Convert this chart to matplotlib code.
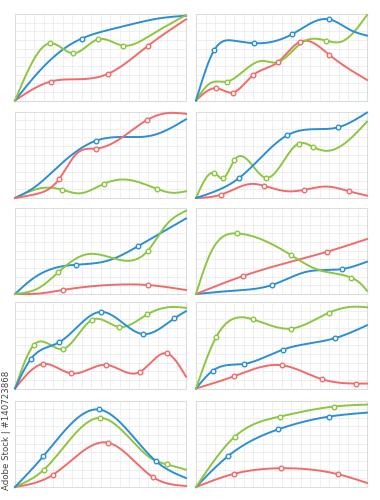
import numpy as np
import matplotlib
matplotlib.use("Agg")
from matplotlib import pyplot as plt

# colours of the three series
BLUE = "#2b8fd6"
GREEN = "#8dc63f"
RED = "#f26b6b"

# each panel: x values, y values and indices of the points that get a marker
# panel 1 (row 1, left)
p1_blue_x = [0, 2.0, 5.07, 7.0, 10.0, 12.4, 15.2, 18]
p1_blue_y = [0, 2.7, 5.92, 7.15, 8.2, 8.85, 9.5, 9.8]
p1_blue_m = [3]
p1_green_x = [0, 3.67, 6.12, 8.74, 11.36, 14.2, 18]
p1_green_y = [0, 6.62, 5.46, 7.08, 6.35, 7.5, 9.88]
p1_green_m = [1, 2, 3, 4]
p1_red_x = [0, 3.74, 6.8, 9.79, 13.98, 18]
p1_red_y = [0, 2.19, 2.46, 3.08, 6.31, 9.38]
p1_red_m = [1, 3, 4]

# panel 2 (row 1, right)
p2_blue_x = [0, 1.93, 3.96, 6.14, 10.1, 14.04, 16.25, 18]
p2_blue_y = [0, 5.85, 6.92, 6.62, 7.65, 9.38, 8.15, 7.5]
p2_blue_m = [1, 3, 4, 5]
p2_green_x = [0, 1.5, 3.26, 5.0, 6.95, 8.5, 11.3, 13.72, 15.3, 18]
p2_green_y = [0, 2.0, 2.19, 3.4, 4.58, 4.4, 6.8, 6.92, 6.8, 9.88]
p2_green_m = [2, 7]
p2_red_x = [0, 2.1, 3.86, 6.0, 8.6, 10.98, 14.04, 18]
p2_red_y = [0, 1.42, 0.92, 2.92, 4.42, 6.81, 5.27, 2.38]
p2_red_m = [1, 2, 3, 4, 5, 6]

# panel 3 (row 2, left)
p3_blue_x = [0, 2.0, 4.7, 8.49, 11.0, 14.5, 18]
p3_blue_y = [0, 1.2, 3.8, 6.61, 7.05, 7.25, 9.1]
p3_blue_m = [3]
p3_red_x = [0, 2.0, 4.61, 6.46, 8.56, 11.4, 13.91, 15.9, 18]
p3_red_y = [0, 0.4, 2.14, 5.1, 5.72, 7.1, 9.03, 9.8, 9.73]
p3_red_m = [2, 4, 6]
p3_green_x = [0, 2.97, 4.9, 6.8, 9.33, 11.53, 14.96, 16.6, 18]
p3_green_y = [0, 1.17, 0.97, 0.54, 1.63, 2.14, 1.05, 0.6, 0.78]
p3_green_m = [2, 4, 6]

# panel 4 (row 2, right)
p4_blue_x = [0, 2.21, 4.56, 9.58, 12.03, 14.95, 18]
p4_blue_y = [0, 0.86, 2.33, 7.24, 7.94, 8.17, 9.88]
p4_blue_m = [2, 3, 5]
p4_green_x = [0, 1.93, 2.84, 4.03, 7.4, 10.8, 12.3, 13.8, 18]
p4_green_y = [0, 2.88, 2.26, 4.36, 2.33, 6.3, 5.91, 5.45, 8.83]
p4_green_m = [1, 2, 3, 4, 5, 6]
p4_red_x = [0, 2.63, 5.9, 7.19, 9.58, 11.33, 13.8, 16.1, 18]
p4_red_y = [0, 0.39, 1.63, 1.4, 0.78, 0.93, 1.32, 0.78, 0.27]
p4_red_m = [1, 3, 5, 7]

# panel 5 (row 3, left)
p5_blue_x = [0, 1.92, 4.72, 6.4, 9.96, 12.97, 18]
p5_blue_y = [0, 1.81, 3.15, 3.38, 3.92, 5.54, 8.73]
p5_blue_m = [3, 5]
p5_green_x = [0, 2.62, 4.54, 7.51, 10.66, 13.98, 15.9, 18]
p5_green_y = [0, 0.77, 2.5, 4.58, 4.04, 5.0, 7.96, 9.62]
p5_green_m = [2, 5]
p5_red_x = [0, 2.5, 5.0, 10.66, 13.98, 18]
p5_red_y = [0, 0.05, 0.46, 1.08, 1.04, 0.46]
p5_red_m = [2, 4]

# panel 6 (row 3, right)
p6_green_x = [0, 1.51, 4.32, 10.0, 12.73, 16.35, 17.3, 18]
p6_green_y = [0, 4.69, 7.0, 4.5, 2.85, 1.88, 1.23, 0.38]
p6_green_m = [2, 3, 5]
p6_red_x = [0, 4.95, 7.47, 13.79, 18]
p6_red_y = [0, 2.08, 2.96, 4.88, 6.35]
p6_red_m = [1, 3]
p6_blue_x = [0, 3.96, 8.0, 11.68, 15.37, 18]
p6_blue_y = [0, 0.38, 1.04, 2.58, 2.88, 3.73]
p6_blue_m = [2, 4]

# panel 7 (row 4, left)
p7_blue_x = [0, 1.64, 4.65, 9.02, 13.46, 16.78, 18]
p7_blue_y = [0, 3.37, 5.34, 8.86, 6.29, 8.11, 8.94]
p7_blue_m = [1, 2, 3, 4, 5]
p7_green_x = [0, 1.99, 5.07, 8.14, 10.94, 13.91, 16.6, 18]
p7_green_y = [0, 5.04, 4.58, 7.95, 7.12, 8.56, 9.43, 9.32]
p7_green_m = [1, 2, 3, 4, 5]
p7_red_x = [0, 2.97, 5.94, 9.61, 13.11, 16.0, 18]
p7_red_y = [0, 2.84, 1.74, 2.73, 1.89, 4.05, 1.36]
p7_red_m = [1, 2, 3, 4, 5]

# panel 8 (row 4, right)
p8_green_x = [0, 2.14, 6.0, 10.0, 13.96, 16.5, 18]
p8_green_y = [0, 5.98, 7.99, 6.93, 8.75, 9.45, 9.39]
p8_green_m = [1, 2, 3, 4]
p8_blue_x = [0, 1.79, 5.02, 9.16, 14.67, 18]
p8_blue_y = [0, 2.08, 2.84, 4.5, 5.83, 7.31]
p8_blue_m = [1, 2, 3, 4]
p8_red_x = [0, 3.96, 9.02, 13.3, 16.84, 18]
p8_red_y = [0, 1.4, 2.69, 1.06, 0.57, 0.57]
p8_red_m = [1, 2, 3, 4]

# panel 9 (row 5, left)
p9_blue_x = [0, 2.97, 8.81, 14.86, 18]
p9_blue_y = [0, 3.54, 8.96, 2.96, 1.04]
p9_blue_m = [1, 2, 3]
p9_green_x = [0, 3.04, 8.98, 14.5, 15.97, 18]
p9_green_y = [0, 2.0, 8.0, 3.2, 2.62, 2.0]
p9_green_m = [1, 2, 4]
p9_red_x = [0, 3.95, 9.79, 14.5, 18]
p9_red_y = [0, 1.38, 5.12, 1.15, 0.12]
p9_red_m = [1, 2, 3]

# panel 10 (row 5, right)
p10_green_x = [0, 4.07, 8.81, 14.49, 18]
p10_green_y = [0, 5.81, 8.14, 9.3, 9.53]
p10_green_m = [1, 2, 3]
p10_blue_x = [0, 3.37, 8.67, 14.0, 18]
p10_blue_y = [0, 3.57, 6.67, 8.14, 8.6]
p10_blue_m = [1, 2, 3]
p10_red_x = [0, 3.96, 8.95, 14.98, 18]
p10_red_y = [0, 1.51, 2.17, 1.47, 0.47]
p10_red_m = [1, 2, 3]

panels = [
    [(p1_red_x, p1_red_y, p1_red_m, RED), (p1_blue_x, p1_blue_y, p1_blue_m, BLUE), (p1_green_x, p1_green_y, p1_green_m, GREEN)],
    [(p2_red_x, p2_red_y, p2_red_m, RED), (p2_green_x, p2_green_y, p2_green_m, GREEN), (p2_blue_x, p2_blue_y, p2_blue_m, BLUE)],
    [(p3_green_x, p3_green_y, p3_green_m, GREEN), (p3_blue_x, p3_blue_y, p3_blue_m, BLUE), (p3_red_x, p3_red_y, p3_red_m, RED)],
    [(p4_red_x, p4_red_y, p4_red_m, RED), (p4_green_x, p4_green_y, p4_green_m, GREEN), (p4_blue_x, p4_blue_y, p4_blue_m, BLUE)],
    [(p5_red_x, p5_red_y, p5_red_m, RED), (p5_blue_x, p5_blue_y, p5_blue_m, BLUE), (p5_green_x, p5_green_y, p5_green_m, GREEN)],
    [(p6_blue_x, p6_blue_y, p6_blue_m, BLUE), (p6_red_x, p6_red_y, p6_red_m, RED), (p6_green_x, p6_green_y, p6_green_m, GREEN)],
    [(p7_red_x, p7_red_y, p7_red_m, RED), (p7_green_x, p7_green_y, p7_green_m, GREEN), (p7_blue_x, p7_blue_y, p7_blue_m, BLUE)],
    [(p8_red_x, p8_red_y, p8_red_m, RED), (p8_blue_x, p8_blue_y, p8_blue_m, BLUE), (p8_green_x, p8_green_y, p8_green_m, GREEN)],
    [(p9_red_x, p9_red_y, p9_red_m, RED), (p9_green_x, p9_green_y, p9_green_m, GREEN), (p9_blue_x, p9_blue_y, p9_blue_m, BLUE)],
    [(p10_red_x, p10_red_y, p10_red_m, RED), (p10_blue_x, p10_blue_y, p10_blue_m, BLUE), (p10_green_x, p10_green_y, p10_green_m, GREEN)],
]


def smooth(xs, ys, n=300):
    # natural cubic spline through the points
    x = np.asarray(xs, float)
    y = np.asarray(ys, float)
    k = len(x)
    h = np.diff(x)
    A = np.zeros((k, k))
    b = np.zeros(k)
    A[0, 0] = A[-1, -1] = 1
    for i in range(1, k - 1):
        A[i, i - 1] = h[i - 1]
        A[i, i] = 2 * (h[i - 1] + h[i])
        A[i, i + 1] = h[i]
        b[i] = 3 * ((y[i + 1] - y[i]) / h[i] - (y[i] - y[i - 1]) / h[i - 1])
    c = np.linalg.solve(A, b)
    xx = np.linspace(x[0], x[-1], n)
    idx = np.clip(np.searchsorted(x, xx) - 1, 0, k - 2)
    dx = xx - x[idx]
    bb = (y[idx + 1] - y[idx]) / h[idx] - h[idx] * (2 * c[idx] + c[idx + 1]) / 3
    dd = (c[idx + 1] - c[idx]) / (3 * h[idx])
    yy = y[idx] + bb * dx + c[idx] * dx ** 2 + dd * dx ** 3
    return xx, yy


fig = plt.figure(figsize=(3.8, 5.0), dpi=100)
W, H = 380, 500
col_left = [15, 196]
row_top = [14, 111.5, 207.5, 302, 400.5]
pw, ph = 171, 86.5

for i, series in enumerate(panels):
    r, c = divmod(i, 2)
    ax = fig.add_axes([col_left[c] / W, 1 - (row_top[r] + ph) / H, pw / W, ph / H])
    ax.set_xlim(0, 18)
    ax.set_ylim(0, 10)
    ax.set_xticks(range(19))
    ax.set_yticks(range(11))
    ax.grid(True, color="#ececec", linewidth=0.6)
    ax.tick_params(length=0, labelbottom=False, labelleft=False)
    for s in ax.spines.values():
        s.set_color("#dddddd")
        s.set_linewidth(0.8)
    for xs, ys, marks, col in series:
        xx, yy = smooth(xs, ys)
        ax.plot(xx, yy, color=col, linewidth=1.4, clip_on=False, zorder=3)
        ax.plot([xs[j] for j in marks], [ys[j] for j in marks], "o", ms=3.3,
                mfc="white", mec=col, mew=1.0, zorder=4, clip_on=False)

fig.text(2 / W, 1 - 490 / H, "Adobe Stock | #140723868", rotation=90,
         fontsize=6.2, color="#444444", ha="left", va="bottom")

plt.savefig("out.png", dpi=100)
